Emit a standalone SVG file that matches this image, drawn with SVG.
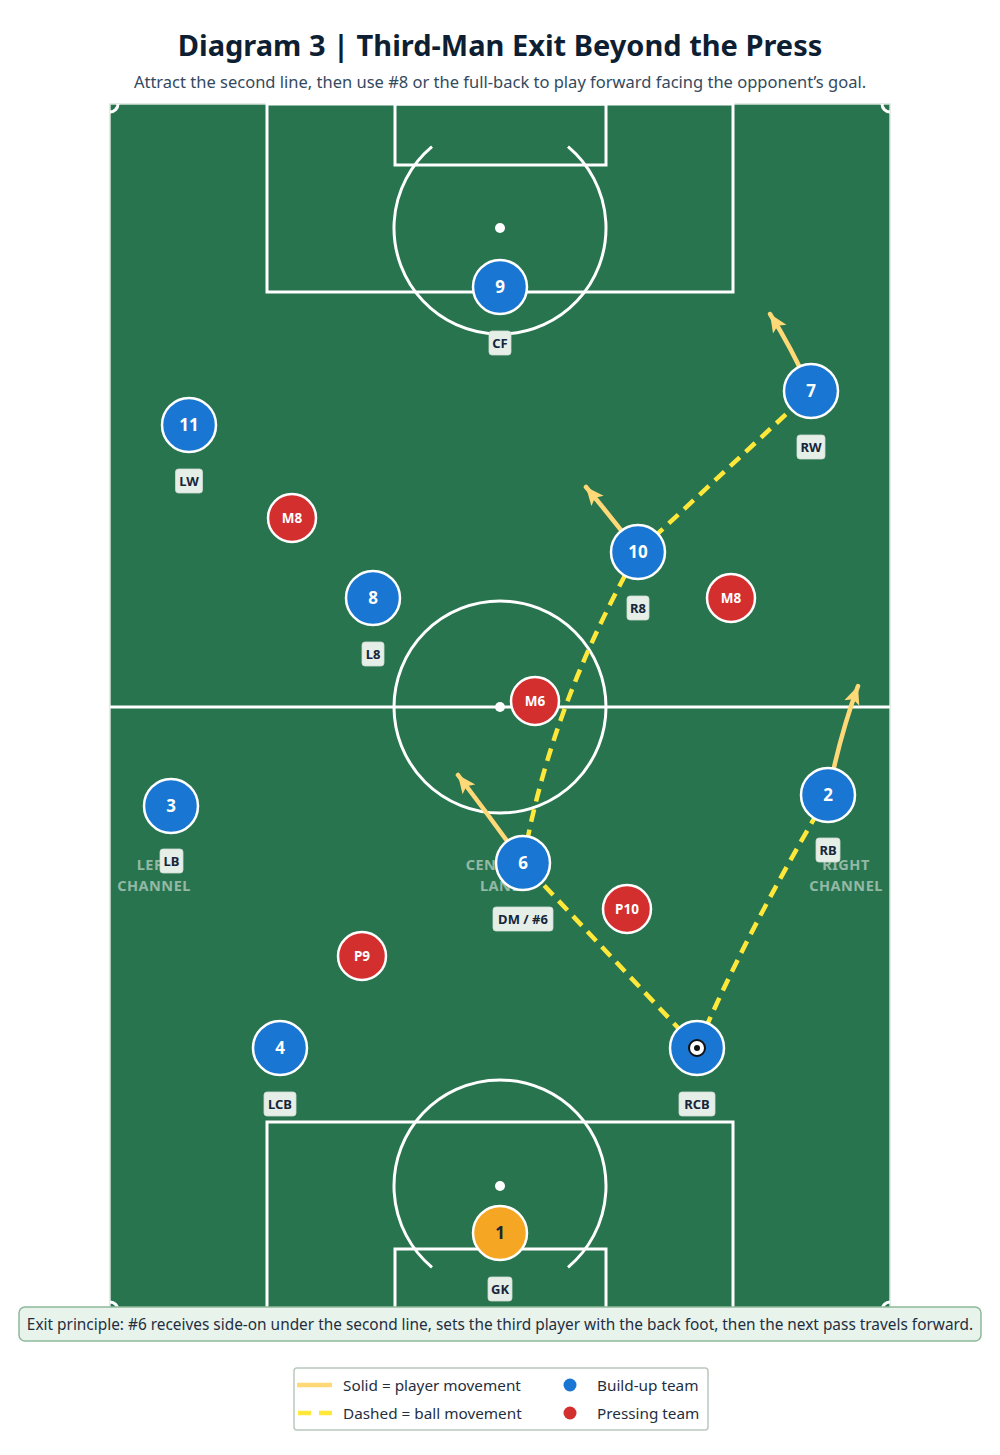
<svg xmlns="http://www.w3.org/2000/svg" width="1000" height="1455" viewBox="0 0 1000 1455">
<style>
text{font-family:"Noto Sans","Open Sans","DejaVu Sans",sans-serif}
.title{font-size:29px;font-weight:700;fill:#0f1f33}
.sub{font-size:16.5px;fill:#334a5e}
.line{fill:none;stroke:#ffffff;stroke-width:3}
.chan{font-size:14.5px;font-weight:700;fill:#ffffff;fill-opacity:0.5;letter-spacing:0.5px}
.blue{fill:#1976d2;stroke:#ffffff;stroke-width:2.5}
.red{fill:#d32f2f;stroke:#ffffff;stroke-width:2.5}
.gk{fill:#f5a623;stroke:#ffffff;stroke-width:2.5}
.num{font-size:17px;font-weight:700;fill:#ffffff}
.rnum{font-size:13.5px;font-weight:700;fill:#ffffff}
.tag{fill:#e6eee8;stroke:#cfdcd3;stroke-width:0.8}
.tagt{font-size:13px;font-weight:700;fill:#16263a}
.move{fill:none;stroke:#ffd877;stroke-width:4.5;stroke-linecap:round}
.ball{fill:none;stroke:#ffe83a;stroke-width:4.5;stroke-dasharray:13 8}
.leg{font-size:15.3px;fill:#1f2f40}
</style>
<defs>
<marker id="ah" markerUnits="userSpaceOnUse" markerWidth="20" markerHeight="20" viewBox="0 0 20 20" refX="18" refY="10" orient="auto">
<path d="M0,2 L18,10 L0,18 L4,10 z" fill="#ffd877"/>
</marker>
</defs>
<rect width="1000" height="1455" fill="#ffffff"/>
<text class="title" x="500" y="56" text-anchor="middle">Diagram 3 | Third-Man Exit Beyond the Press</text>
<text class="sub" x="500" y="88" text-anchor="middle">Attract the second line, then use #8 or the full-back to play forward facing the opponent’s goal.</text>

<g id="pitch">
<rect x="110" y="104" width="780" height="1206" fill="#28744e" stroke="#d9e6dc" stroke-width="1.5"/>
<line class="line" x1="110" y1="707" x2="890" y2="707"/>
<circle class="line" cx="500" cy="707" r="106"/>
<circle cx="500" cy="707" r="5" fill="#ffffff"/>
<rect class="line" x="267" y="104" width="466" height="188"/>
<rect class="line" x="395" y="104" width="211" height="61"/>
<path class="line" d="M432,146.7 A106,106 0 1 0 568,146.7"/>
<circle cx="500" cy="228" r="5" fill="#ffffff"/>
<rect class="line" x="267" y="1122" width="466" height="188"/>
<rect class="line" x="395" y="1249" width="211" height="61"/>
<path class="line" d="M432,1267.3 A106,106 0 1 1 568,1267.3"/>
<circle cx="500" cy="1186" r="5" fill="#ffffff"/>
<path class="line" stroke-width="2" d="M110,112 A8,8 0 0 0 118,104"/>
<path class="line" stroke-width="2" d="M882,104 A8,8 0 0 0 890,112"/>
<path class="line" stroke-width="2" d="M110,1302 A8,8 0 0 1 118,1310"/>
<path class="line" stroke-width="2" d="M882,1310 A8,8 0 0 1 890,1302"/>
<text class="chan" x="154" y="870" text-anchor="middle">LEFT</text>
<text class="chan" x="154" y="891" text-anchor="middle">CHANNEL</text>
<text class="chan" x="500" y="870" text-anchor="middle">CENTRAL</text>
<text class="chan" x="500" y="891" text-anchor="middle">LANE</text>
<text class="chan" x="846" y="870" text-anchor="middle">RIGHT</text>
<text class="chan" x="846" y="891" text-anchor="middle">CHANNEL</text>
</g>

<g id="connectors">
<path class="ball" d="M697,1048 L523,863"/>
<path class="ball" d="M697,1048 Q745,935 828,795"/>
<path class="ball" d="M523,863 Q550,707 638,552"/>
<path class="ball" d="M638,552 L811,391"/>
<path class="move" marker-end="url(#ah)" d="M811,391 Q790,345 770,314"/>
<path class="move" marker-end="url(#ah)" d="M638,552 Q612,518 586,487"/>
<path class="move" marker-end="url(#ah)" d="M523,863 Q490,817 458,775"/>
<path class="move" marker-end="url(#ah)" d="M828,795 Q840,735 858,686"/>
</g>

<g id="pressing">
<g id="p-m8l"><circle class="red" cx="292" cy="518" r="24"/><text class="rnum" x="292" y="523" text-anchor="middle">M8</text></g>
<g id="p-m8r"><circle class="red" cx="731" cy="598" r="24"/><text class="rnum" x="731" y="603" text-anchor="middle">M8</text></g>
<g id="p-m6"><circle class="red" cx="535" cy="701" r="24"/><text class="rnum" x="535" y="706" text-anchor="middle">M6</text></g>
<g id="p-p10"><circle class="red" cx="627" cy="909" r="24"/><text class="rnum" x="627" y="914" text-anchor="middle">P10</text></g>
<g id="p-p9"><circle class="red" cx="362" cy="956" r="24"/><text class="rnum" x="362" y="961" text-anchor="middle">P9</text></g>
</g>

<g id="n9"><circle class="blue" cx="500" cy="287" r="27"/><text class="num" x="500" y="293" text-anchor="middle">9</text>
<rect class="tag" x="489" y="331" width="22" height="24" rx="3"/><text class="tagt" x="500" y="347.5" text-anchor="middle">CF</text></g>
<g id="n11"><circle class="blue" cx="189" cy="425" r="27"/><text class="num" x="189" y="431" text-anchor="middle">11</text>
<rect class="tag" x="175.5" y="469" width="27" height="24" rx="3"/><text class="tagt" x="189" y="485.5" text-anchor="middle">LW</text></g>
<g id="n7"><circle class="blue" cx="811" cy="391" r="27"/><text class="num" x="811" y="397" text-anchor="middle">7</text>
<rect class="tag" x="797" y="435" width="28" height="24" rx="3"/><text class="tagt" x="811" y="451.5" text-anchor="middle">RW</text></g>
<g id="n10"><circle class="blue" cx="638" cy="552" r="27"/><text class="num" x="638" y="558" text-anchor="middle">10</text>
<rect class="tag" x="627" y="596" width="22" height="24" rx="3"/><text class="tagt" x="638" y="612.5" text-anchor="middle">R8</text></g>
<g id="n8"><circle class="blue" cx="373" cy="598" r="27"/><text class="num" x="373" y="604" text-anchor="middle">8</text>
<rect class="tag" x="362" y="642" width="22" height="24" rx="3"/><text class="tagt" x="373" y="658.5" text-anchor="middle">L8</text></g>
<g id="n3"><circle class="blue" cx="171" cy="806" r="27"/><text class="num" x="171" y="812" text-anchor="middle">3</text>
<rect class="tag" x="160" y="849" width="23" height="24" rx="3"/><text class="tagt" x="171.5" y="865.5" text-anchor="middle">LB</text></g>
<g id="n6"><circle class="blue" cx="523" cy="863" r="27"/><text class="num" x="523" y="869" text-anchor="middle">6</text>
<rect class="tag" x="493" y="907" width="60" height="24" rx="3"/><text class="tagt" x="523" y="923.5" text-anchor="middle">DM / #6</text></g>
<g id="n2"><circle class="blue" cx="828" cy="795" r="27"/><text class="num" x="828" y="801" text-anchor="middle">2</text>
<rect class="tag" x="816" y="838" width="24" height="24" rx="3"/><text class="tagt" x="828" y="854.5" text-anchor="middle">RB</text></g>
<g id="n4"><circle class="blue" cx="280" cy="1048" r="27"/><text class="num" x="280" y="1054" text-anchor="middle">4</text>
<rect class="tag" x="264" y="1092" width="32" height="24" rx="3"/><text class="tagt" x="280" y="1108.5" text-anchor="middle">LCB</text></g>
<g id="nRCB"><circle class="blue" cx="697" cy="1048" r="27"/>
<circle cx="697" cy="1048" r="8" fill="#ffffff" stroke="#111111" stroke-width="2"/><circle cx="697" cy="1048" r="3" fill="#111111"/>
<rect class="tag" x="679" y="1092" width="36" height="24" rx="3"/><text class="tagt" x="697" y="1108.5" text-anchor="middle">RCB</text></g>
<g id="n1"><circle class="gk" cx="500" cy="1233" r="27"/><text x="500" y="1239" text-anchor="middle" font-size="17" font-weight="700" fill="#1a2533">1</text>
<rect class="tag" x="488" y="1277" width="24" height="24" rx="3"/><text class="tagt" x="500" y="1293.5" text-anchor="middle">GK</text></g>

<g id="caption">
<rect x="19" y="1307" width="962" height="34" rx="6" fill="#e8f3ec" stroke="#8fb89a" stroke-width="1.5"/>
<text x="500" y="1330" text-anchor="middle" font-size="15.4" fill="#1f2f40">Exit principle: #6 receives side-on under the second line, sets the third player with the back foot, then the next pass travels forward.</text>
</g>

<g id="legend">
<rect x="294" y="1368" width="414" height="62" rx="3" fill="#ffffff" stroke="#b9c9bd" stroke-width="1.5"/>
<line x1="297" y1="1385" x2="332" y2="1385" stroke="#ffd877" stroke-width="4.5"/>
<text class="leg" x="343" y="1390.5">Solid = player movement</text>
<line x1="298" y1="1413" x2="332" y2="1413" stroke="#ffe83a" stroke-width="4.5" stroke-dasharray="13 8"/>
<text class="leg" x="343" y="1418.5">Dashed = ball movement</text>
<circle cx="570" cy="1385" r="6.5" fill="#1976d2"/>
<text class="leg" x="597" y="1390.5">Build-up team</text>
<circle cx="570" cy="1413" r="6.5" fill="#d32f2f"/>
<text class="leg" x="597" y="1418.5">Pressing team</text>
</g>
</svg>
